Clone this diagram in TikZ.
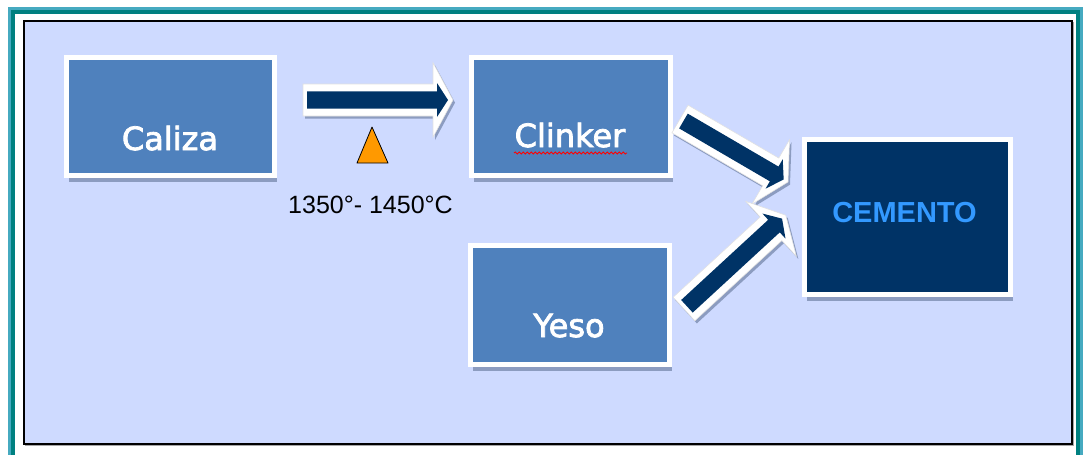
\documentclass[tikz,border=0pt]{standalone}
\usepackage{fontspec}
\usetikzlibrary{calc,shadows,decorations.pathmorphing}
\newfontfamily\lblfont{DejaVu Sans}[FakeBold=2.5]
\newfontfamily\arialfont{Liberation Sans}

\definecolor{paneblue}{RGB}{206,218,255}
\definecolor{boxblue}{RGB}{79,129,189}
\definecolor{navy}{RGB}{0,51,102}
\definecolor{cemtext}{RGB}{51,153,255}
\definecolor{tealdark}{RGB}{0,128,128}
\definecolor{teallight}{RGB}{70,170,192}
\definecolor{shadowblue}{RGB}{140,156,192}
\definecolor{flame}{RGB}{255,153,0}

\tikzset{
  boxnode/.style={draw=white, line width=3.5pt, fill=boxblue, inner sep=0pt,
    drop shadow={shadow xshift=2pt, shadow yshift=-5pt, fill=shadowblue, opacity=1}},
  boxlabel/.style={anchor=base, text=white, font=\lblfont\fontsize{24}{28}\selectfont},
  arrowfill/.style={fill=navy},
  arrowrim/.style={fill=white, draw=black!12, line width=0.4pt},
  arrowshade/.style={fill=shadowblue},
}

% block arrow from one named coordinate to another:
% white rim, dark core, soft shadow to the lower right
\newcommand\blockarrow[2]{%
  \path let \p1=(#1), \p2=(#2) in
    \pgfextra{%
      \pgfmathsetmacro\barang{atan2(\y2-\y1,\x2-\x1)}%
      \pgfmathsetmacro\barlen{veclen(\x2-\x1,\y2-\y1)}%
      \xdef\barang{\barang}\xdef\barlen{\barlen}};
  \begin{scope}[shift={(#1)}, xshift=1.5pt, yshift=-2pt, rotate=\barang]
    \path[arrowshade] (0pt,12pt) -- ({\barlen pt-15pt},12pt) -- ({\barlen pt-15pt},28pt)
      -- ({\barlen pt},0pt) -- ({\barlen pt-15pt},-28pt) -- ({\barlen pt-15pt},-12pt)
      -- (0pt,-12pt) -- cycle;
  \end{scope}
  \begin{scope}[shift={(#1)}, rotate=\barang]
    \path[arrowrim] (0pt,12pt) -- ({\barlen pt-15pt},12pt) -- ({\barlen pt-15pt},28pt)
      -- ({\barlen pt},0pt) -- ({\barlen pt-15pt},-28pt) -- ({\barlen pt-15pt},-12pt)
      -- (0pt,-12pt) -- cycle;
    \path[arrowfill] (3pt,6.4pt) -- ({\barlen pt-12pt},6.4pt) -- ({\barlen pt-12pt},12.75pt)
      -- ({\barlen pt-3.75pt},0pt) -- ({\barlen pt-12pt},-12.75pt) -- ({\barlen pt-12pt},-6.4pt)
      -- (3pt,-6.4pt) -- cycle;
  \end{scope}
}

\begin{document}
\begin{tikzpicture}[x=0.75pt, y=-0.75pt]
  \useasboundingbox (0,0) rectangle (1083,454);

  % teal frame
  \fill[teallight] (8,7) rectangle (1083,470);
  \fill[tealdark] (11,10) rectangle (1080,467);
  \fill[white] (15,14) rectangle (1076,463);

  % light blue pane with dark rim
  \draw[black!35, line width=1.2pt] (25.5,22.5) rectangle (1073,445);
  \draw[black, fill=paneblue, line width=1.5pt] (24,21) rectangle (1071.5,443.5);

  % process boxes
  \node[boxnode, minimum width=156.2pt, minimum height=88.7pt] (caliza) at (170.5,116.5) {};
  \node[boxnode, minimum width=149.5pt, minimum height=88.7pt] (clinker) at (571,116.5) {};
  \node[boxnode, minimum width=149.5pt, minimum height=89.5pt] (yeso) at (570,305) {};
  \node[boxnode, fill=navy, minimum width=154.7pt, minimum height=116.5pt] (cemento) at (907.5,217) {};

  \node[boxlabel] (caliza-t) at (170,150) {Caliza};
  \node[boxlabel] (clinker-t) at (570,147) {Clinker};
  \node[boxlabel] (yeso-t) at (569,337) {Yeso};
  \node[anchor=base, text=cemtext, font=\arialfont\bfseries\fontsize{21.75}{26}\selectfont]
    (cemento-t) at (904.5,222) {CEMENTO};

  % spelling mark under Clinker
  \draw[red, line width=0.6pt, decorate, decoration={snake, amplitude=0.8pt, segment length=3pt}]
    (514,153) -- (627,153);

  % arrow ends
  \coordinate (a1s) at (303,100);
  \coordinate (a1e) at (453,100);
  \coordinate (a2s) at (680,119);
  \coordinate (a2e) at (788,182);
  \coordinate (a3s) at (684,309);
  \coordinate (a3e) at (786,215);

  \blockarrow{a1s}{a1e}
  \blockarrow{a2s}{a2e}
  \blockarrow{a3s}{a3e}

  % heat sign and firing temperature
  \draw[fill=flame, line width=0.6pt, line join=round] (372,127) -- (388,163) -- (357,163) -- cycle;
  \node[anchor=base, font=\arialfont\fontsize{18.75}{22}\selectfont] (temp) at (370.5,213) {1350°- 1450°C};
\end{tikzpicture}
\end{document}
